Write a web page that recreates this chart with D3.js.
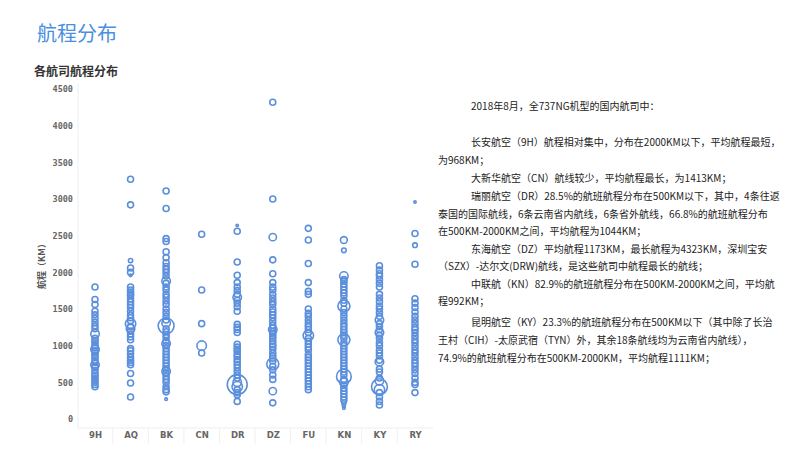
<!DOCTYPE html>
<html><head><meta charset="utf-8">
<script src="https://cdn.jsdelivr.net/npm/d3@7"></script>
<style>
html,body{margin:0;padding:0;background:#fff;}
svg{display:block;}
</style></head>
<body>
<svg id="c" width="800" height="454"></svg>
<script>
const pageTitle = "航程分布";
const chartTitle = "各航司航程分布";
const yAxisTitle = "航程（KM）";
const categories = ["9H","AQ","BK","CN","DR","DZ","FU","KN","KY","RY"];
const yTicks = [0,500,1000,1500,2000,2500,3000,3500,4000,4500];

// [航程KM, 航班数权重]
const route_9H = [[1800,1],[1630,1],[1560,1],[1470,1],[1420,1],[1370,1],[1320,1],[1270,1],[1230,1],[1160,2],[1100,1],[1070,1],[1040,1],[1000,1],[970,1],[950,2],[930,1],[900,1],[870,1],[840,1],[800,1],[770,1],[740,2],[720,1],[700,1],[660,1],[620,1],[590,1],[560,1],[530,1],[500,1],[470,1],[440,1]];
const route_AQ = [[3270,1],[2920,1],[2160,0.5],[2060,1],[2000,1],[1960,0.2],[1800,1],[1760,1],[1730,1],[1700,1],[1680,1],[1640,1],[1600,1],[1560,1],[1520,1],[1470,1],[1420,1],[1380,1],[1340,1],[1300,3],[1260,1],[1230,2],[1200,1],[1160,1],[1120,1],[1080,1],[960,1],[930,1],[890,1],[840,1],[800,1],[770,1],[740,1],[620,1],[490,1],[300,1]];
const route_BK = [[3110,1],[2870,1],[2460,1],[2420,1],[2280,1],[2200,1],[2130,1],[2080,1],[2040,1],[2000,1],[1950,1],[1880,2],[1850,1],[1800,1],[1760,1],[1700,1],[1660,1],[1610,1],[1560,1],[1500,1],[1450,1],[1400,1],[1350,1],[1310,2],[1270,7],[1230,1],[1190,1],[1150,1],[1110,1],[1060,1],[1030,2],[1000,1],[960,1],[920,1],[880,1],[840,1],[800,1],[760,1],[720,1],[680,1],[650,2],[620,1],[580,1],[540,1],[500,1],[440,1],[400,1],[370,1],[270,0.2]];
const route_CN = [[2520,1],[1760,1],[1300,1],[1000,2.5],[900,1]];
const route_DR = [[2640,0.15],[2560,1],[2140,1],[1960,1],[1860,1],[1800,1],[1750,1],[1700,1],[1660,2],[1620,1],[1580,1],[1530,1],[1470,1],[1290,1],[1250,1],[1220,1],[1180,1],[1020,1],[980,1],[950,1],[920,1],[880,1],[850,1],[810,1],[780,1],[740,1],[700,1],[650,1],[600,1],[560,1],[500,2],[470,11],[440,3],[400,1],[360,1],[330,1],[240,1]];
const route_DZ = [[4320,1],[3000,1],[2480,1.5],[2170,1],[1980,1],[1860,1],[1800,1],[1760,1],[1700,1],[1650,1],[1600,1],[1560,1],[1500,1],[1460,1],[1420,1],[1380,1],[1330,1],[1280,1],[1240,1],[1220,2],[1190,1],[1160,1],[1130,1],[1100,1],[1060,1],[1020,1],[990,1],[950,1],[900,1],[860,1],[830,1],[790,1],[750,4],[720,1],[670,1],[600,1],[540,1],[380,1.5],[220,1]];
const route_FU = [[2600,1],[2440,1],[2120,1],[1860,1],[1740,1],[1700,1],[1500,1],[1440,1],[1400,1],[1350,1],[1300,1],[1260,1],[1220,1],[1180,1],[1140,3],[1100,1],[1060,1],[1020,1],[980,1],[940,1],[880,1],[840,1],[800,1],[760,1],[720,1],[680,1],[640,1],[600,1],[560,1],[520,1],[480,1],[440,1],[400,1]];
const route_KN = [[2440,1.3],[2300,0.6],[1950,2],[1900,1],[1880,1],[1840,1],[1800,1],[1760,1],[1720,1],[1680,1],[1620,1],[1580,1],[1540,4],[1500,1],[1450,1],[1400,1],[1350,1],[1300,1],[1260,1],[1220,1],[1180,1],[1140,1],[1100,1],[1080,4],[1040,1],[1000,1],[960,1],[920,1],[880,1],[840,1],[800,1],[760,1],[720,1],[680,1],[640,1],[600,1],[580,6],[540,1],[500,2],[460,1],[420,1],[380,1],[340,1],[300,1],[260,1],[220,0.5],[180,0.3],[150,0.2]];
const route_KY = [[2090,1],[2030,1],[1980,1],[1950,1],[1900,1],[1850,1],[1800,1],[1700,1],[1650,1],[1600,1],[1540,1],[1500,1],[1450,1],[1400,1],[1350,2],[1300,1],[1260,1],[1220,1],[1180,2],[1140,1],[1100,1],[1040,1],[1000,1],[940,1],[900,1],[860,1],[800,1],[780,2],[680,1],[640,1],[560,1],[520,2],[440,7],[400,3],[360,1],[300,1],[240,1],[190,1]];
const route_RY = [[2960,0.15],[2530,1],[2370,0.6],[2110,1],[1640,1],[1580,1],[1520,1],[1460,1],[1400,1],[1350,1],[1300,1],[1250,1],[1220,1],[1180,1],[1130,1],[1080,1],[1040,1],[990,1],[940,1],[900,1],[850,1],[800,1],[760,1],[720,1],[670,1],[620,1],[560,1],[500,1],[470,1],[360,1]];

const noteLines = [
  ["2018年8月，全737NG机型的国内航司中：", true],
  ["长安航空（9H）航程相对集中，分布在2000KM以下，平均航程最短，", true],
  ["为968KM；", false],
  ["大新华航空（CN）航线较少，平均航程最长，为1413KM；", true],
  ["瑞丽航空（DR）28.5%的航班航程分布在500KM以下，其中，4条往返", true],
  ["泰国的国际航线，6条云南省内航线，6条省外航线，66.8%的航班航程分布", false],
  ["在500KM-2000KM之间，平均航程为1044KM；", false],
  ["东海航空（DZ）平均航程1173KM，最长航程为4323KM，深圳宝安", true],
  ["（SZX）-达尔文(DRW)航线，是这些航司中航程最长的航线；", false],
  ["中联航（KN）82.9%的航班航程分布在500KM-2000KM之间，平均航", true],
  ["程992KM；", false],
  ["昆明航空（KY）23.3%的航班航程分布在500KM以下（其中除了长治", true],
  ["王村（CIH）-太原武宿（TYN）外，其余18条航线均为云南省内航线），", false],
  ["74.9%的航班航程分布在500KM-2000KM，平均航程1111KM；", false]
];
const noteY = [110, 146, 164, 182, 200, 218, 235, 253, 270, 288, 305, 326, 344, 362];

const routesByCat = {"9H":route_9H,"AQ":route_AQ,"BK":route_BK,"CN":route_CN,"DR":route_DR,"DZ":route_DZ,"FU":route_FU,"KN":route_KN,"KY":route_KY,"RY":route_RY};

const svg = d3.select("#c");
const cjk = "'Noto Sans CJK SC','Noto Sans',sans-serif";

svg.append("text").attr("x",37).attr("y",41).attr("fill","#4a8fe0")
  .attr("font-family",cjk).attr("font-size",20).text(pageTitle);
svg.append("text").attr("x",34).attr("y",76).attr("fill","#333")
  .attr("font-family",cjk).attr("font-size",12).attr("font-weight","bold").text(chartTitle);

const x = d3.scalePoint().domain(categories).range([95,415]);
const y = d3.scaleLinear().domain([0,4500]).range([419,89]);
const r = d3.scaleSqrt().domain([0,1]).range([0,3]);

// frame lines
svg.append("line").attr("x1",78).attr("x2",78).attr("y1",84).attr("y2",428).attr("stroke","#eeeeee");
svg.append("line").attr("x1",78).attr("x2",433).attr("y1",428).attr("y2",428).attr("stroke","#eeeeee");
const step = x.step();
svg.append("g").selectAll("line").data(categories.slice(1)).join("line")
  .attr("x1",d=>x(d)-step/2).attr("x2",d=>x(d)-step/2)
  .attr("y1",428).attr("y2",444).attr("stroke","#f0f0f0");

// y axis
const yAxis = d3.axisLeft(y).tickValues(yTicks).tickSize(0).tickPadding(0).tickFormat(d3.format("d"));
const gy = svg.append("g").attr("transform","translate(73,0)").call(yAxis);
gy.select(".domain").remove();
gy.selectAll("text").attr("font-family","'DejaVu Sans Mono',monospace").attr("font-size",8.5)
  .attr("font-weight","bold").attr("fill","#666");

// x axis
const xAxis = d3.axisBottom(x).tickSize(0).tickPadding(0);
const gx = svg.append("g").attr("transform","translate(0,432)").call(xAxis);
gx.select(".domain").remove();
gx.selectAll("text").attr("font-family","'DejaVu Sans',sans-serif").attr("font-size",8.5)
  .attr("font-weight","bold").attr("fill","#666");

svg.append("text").attr("transform","translate(45,264) rotate(-90)").attr("text-anchor","middle")
  .attr("font-family",cjk).attr("font-size",9).attr("font-weight","bold").attr("fill","#555").text(yAxisTitle);

// points
const pts = [];
categories.forEach(c => routesByCat[c].forEach(([km,n]) => pts.push({c,km,n})));
pts.sort((a,b)=>b.n-a.n);
svg.append("g").selectAll("circle").data(pts).join("circle")
  .attr("cx",d=>x(d.c)).attr("cy",d=>y(d.km)).attr("r",d=>r(d.n))
  .attr("fill","none").attr("stroke","#5b8fdc").attr("stroke-width",1.6);

// notes
svg.append("g").selectAll("text").data(noteLines).join("text")
  .attr("x",d=>d[1]?471:438).attr("y",(d,i)=>noteY[i])
  .attr("font-family",cjk).attr("font-size",10).attr("fill","#222")
  .text(d=>d[0]);
</script>
</body></html>
